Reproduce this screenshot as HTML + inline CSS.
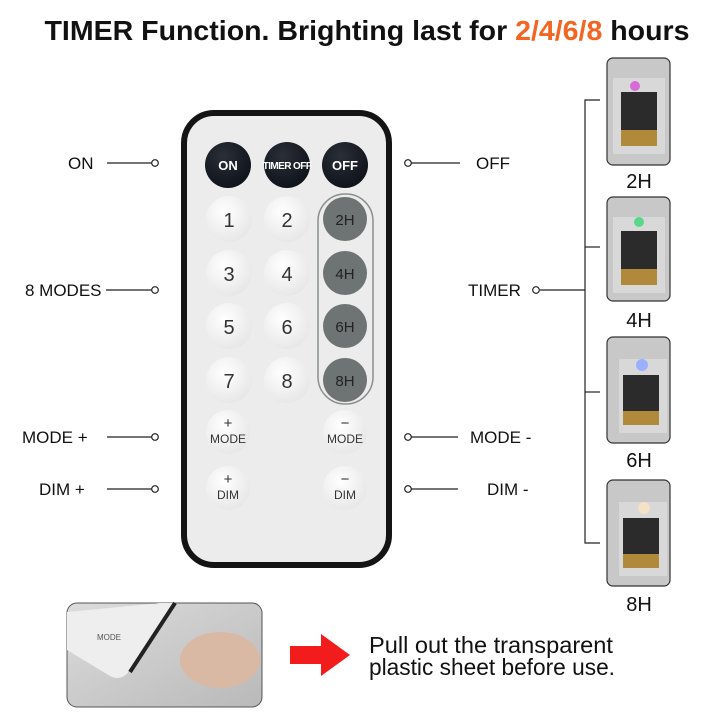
<!DOCTYPE html>
<html><head><meta charset="utf-8"><style>
html,body{margin:0;padding:0;background:#fff;}
svg{display:block;}
text{font-family:"Liberation Sans",sans-serif;}
</style></head><body>
<svg width="720" height="720" viewBox="0 0 720 720" xmlns="http://www.w3.org/2000/svg">
<defs>
<radialGradient id="wb" cx="0.4" cy="0.35" r="0.7"><stop offset="0" stop-color="#ffffff"/><stop offset="1" stop-color="#e6e6e6"/></radialGradient>
<radialGradient id="db" cx="0.4" cy="0.3" r="0.7"><stop offset="0" stop-color="#2a2f38"/><stop offset="1" stop-color="#0f131a"/></radialGradient>
<linearGradient id="ph" x1="0" y1="0" x2="1" y2="1"><stop offset="0" stop-color="#dcdcdc"/><stop offset="1" stop-color="#b9b9b9"/></linearGradient>
</defs>
<text x="367" y="40" font-size="28" font-weight="bold" text-anchor="middle" fill="#111" textLength="645" lengthAdjust="spacingAndGlyphs">TIMER Function. Brighting last for <tspan fill="#f26522">2/4/6/8</tspan> hours</text>

<!-- remote -->
<rect x="184" y="113" width="205" height="452" rx="30" fill="#ececec" stroke="#141414" stroke-width="6"/>
<g>
<circle cx="228" cy="165" r="23" fill="url(#db)"/>
<circle cx="287" cy="165" r="23" fill="url(#db)"/>
<circle cx="345" cy="165" r="23" fill="url(#db)"/>
<text x="228" y="170" font-size="13" font-weight="bold" fill="#fff" text-anchor="middle">ON</text>
<text x="287" y="169" font-size="10" font-weight="bold" fill="#fff" text-anchor="middle" letter-spacing="-0.6">TIMER OFF</text>
<text x="345" y="170" font-size="13" font-weight="bold" fill="#fff" text-anchor="middle">OFF</text>
</g>
<rect x="318" y="194" width="55" height="210" rx="27" fill="none" stroke="#8a8f8e" stroke-width="1.5"/>
<g font-size="20" fill="#333" text-anchor="middle">
<circle cx="229" cy="219" r="23" fill="url(#wb)"/><circle cx="287" cy="219" r="23" fill="url(#wb)"/>
<circle cx="229" cy="273" r="23" fill="url(#wb)"/><circle cx="287" cy="273" r="23" fill="url(#wb)"/>
<circle cx="229" cy="326" r="23" fill="url(#wb)"/><circle cx="287" cy="326" r="23" fill="url(#wb)"/>
<circle cx="229" cy="380" r="23" fill="url(#wb)"/><circle cx="287" cy="380" r="23" fill="url(#wb)"/>
<text x="229" y="227">1</text><text x="287" y="227">2</text>
<text x="229" y="281">3</text><text x="287" y="281">4</text>
<text x="229" y="334">5</text><text x="287" y="334">6</text>
<text x="229" y="388">7</text><text x="287" y="388">8</text>
</g>
<g font-size="15" fill="#222" text-anchor="middle">
<circle cx="345" cy="219" r="22" fill="#6e7473"/><circle cx="345" cy="273" r="22" fill="#6e7473"/>
<circle cx="345" cy="326" r="22" fill="#6e7473"/><circle cx="345" cy="380" r="22" fill="#6e7473"/>
<text x="345" y="225">2H</text><text x="345" y="279">4H</text><text x="345" y="332">6H</text><text x="345" y="386">8H</text>
</g>
<g font-size="12" fill="#333" text-anchor="middle">
<circle cx="228" cy="432" r="22" fill="url(#wb)"/><circle cx="345" cy="432" r="22" fill="url(#wb)"/>
<circle cx="228" cy="488" r="22" fill="url(#wb)"/><circle cx="345" cy="488" r="22" fill="url(#wb)"/>
<text x="228" y="428" font-size="15">+</text><text x="228" y="443">MODE</text>
<text x="345" y="428" font-size="15">−</text><text x="345" y="443">MODE</text>
<text x="228" y="484" font-size="15">+</text><text x="228" y="499">DIM</text>
<text x="345" y="484" font-size="15">−</text><text x="345" y="499">DIM</text>
</g>

<g font-size="17" fill="#111" stroke="none">
<text x="68" y="169">ON</text>
<text x="25" y="296">8 MODES</text>
<text x="22" y="443">MODE +</text>
<text x="39" y="495">DIM +</text>
<text x="476" y="169">OFF</text>
<text x="468" y="296">TIMER</text>
<text x="470" y="443">MODE -</text>
<text x="487" y="495">DIM -</text>
</g>
<g stroke="#222" stroke-width="1.2" fill="#fff">
<line x1="107" y1="163" x2="152" y2="163"/><circle cx="155" cy="163" r="3.3"/>
<line x1="106" y1="290" x2="152" y2="290"/><circle cx="155" cy="290" r="3.3"/>
<line x1="107" y1="437" x2="152" y2="437"/><circle cx="155" cy="437" r="3.3"/>
<line x1="107" y1="489" x2="152" y2="489"/><circle cx="155" cy="489" r="3.3"/>
<line x1="411" y1="163" x2="460" y2="163"/><circle cx="408" cy="163" r="3.3"/>
<line x1="411" y1="437" x2="458" y2="437"/><circle cx="408" cy="437" r="3.3"/>
<line x1="411" y1="489" x2="458" y2="489"/><circle cx="408" cy="489" r="3.3"/>
<line x1="540" y1="290" x2="585" y2="290"/><circle cx="536" cy="290" r="3.3"/>
<polyline points="600,100 585,100 585,543 600,543" fill="none"/>
<line x1="585" y1="247" x2="600" y2="247"/>
<line x1="585" y1="392" x2="600" y2="392"/>
</g>

<g>
<g transform="translate(607,58)">
<rect x="0" y="0" width="63" height="107" rx="6" fill="#c8c8c8" stroke="#333" stroke-width="1.2"/>
<rect x="6" y="20" width="52" height="76" fill="#d8d8d8"/><rect x="14" y="34" width="36" height="42" fill="#2b2b2b"/><rect x="14" y="72" width="36" height="16" fill="#b08a3a"/>
<circle cx="28" cy="28" r="5" fill="#d86ad8"/></g>
<g transform="translate(607,197)">
<rect x="0" y="0" width="63" height="104" rx="6" fill="#c8c8c8" stroke="#333" stroke-width="1.2"/>
<rect x="6" y="20" width="52" height="76" fill="#d8d8d8"/><rect x="14" y="34" width="36" height="42" fill="#2b2b2b"/><rect x="14" y="72" width="36" height="16" fill="#b08a3a"/>
<circle cx="32" cy="25" r="5" fill="#5ad88a"/></g>
<g transform="translate(607,337)">
<rect x="0" y="0" width="63" height="106" rx="6" fill="#c8c8c8" stroke="#333" stroke-width="1.2"/>
<rect x="12" y="22" width="48" height="74" fill="#d8d8d8"/><rect x="16" y="38" width="36" height="40" fill="#2b2b2b"/><rect x="16" y="74" width="36" height="14" fill="#b08a3a"/>
<circle cx="35" cy="28" r="6" fill="#9ab0ff"/></g>
<g transform="translate(607,480)">
<rect x="0" y="0" width="63" height="106" rx="6" fill="#c8c8c8" stroke="#333" stroke-width="1.2"/>
<rect x="12" y="22" width="48" height="74" fill="#d8d8d8"/><rect x="16" y="38" width="36" height="40" fill="#2b2b2b"/><rect x="16" y="74" width="36" height="14" fill="#b08a3a"/>
<circle cx="37" cy="28" r="6" fill="#f5e0c8"/></g>
<g font-size="20" fill="#111" text-anchor="middle">
<text x="639" y="188">2H</text><text x="639" y="327">4H</text><text x="639" y="467">6H</text><text x="639" y="611">8H</text>
</g>
</g>

<rect x="67" y="603" width="195" height="104" rx="10" fill="url(#ph)" stroke="#555" stroke-width="1"/>
<path d="M67,612 L160,603 L175,603 L130,670 Q122,682 110,676 L67,650 Z" fill="#eeeeee"/>
<path d="M175,603 L130,672" stroke="#222" stroke-width="4"/>
<ellipse cx="220" cy="660" rx="40" ry="28" fill="#d9b8a4"/>
<text x="97" y="640" font-size="8" fill="#555">MODE</text>
<polygon points="290,646 321,646 321,634 350,655 321,676 321,664 290,664" fill="#f21c1c"/>
<g font-size="23" fill="#111">
<text x="369" y="653" textLength="244" lengthAdjust="spacingAndGlyphs">Pull out the transparent</text>
<text x="369" y="675" textLength="246" lengthAdjust="spacingAndGlyphs">plastic sheet before use.</text>
</g>
</svg>
</body></html>
